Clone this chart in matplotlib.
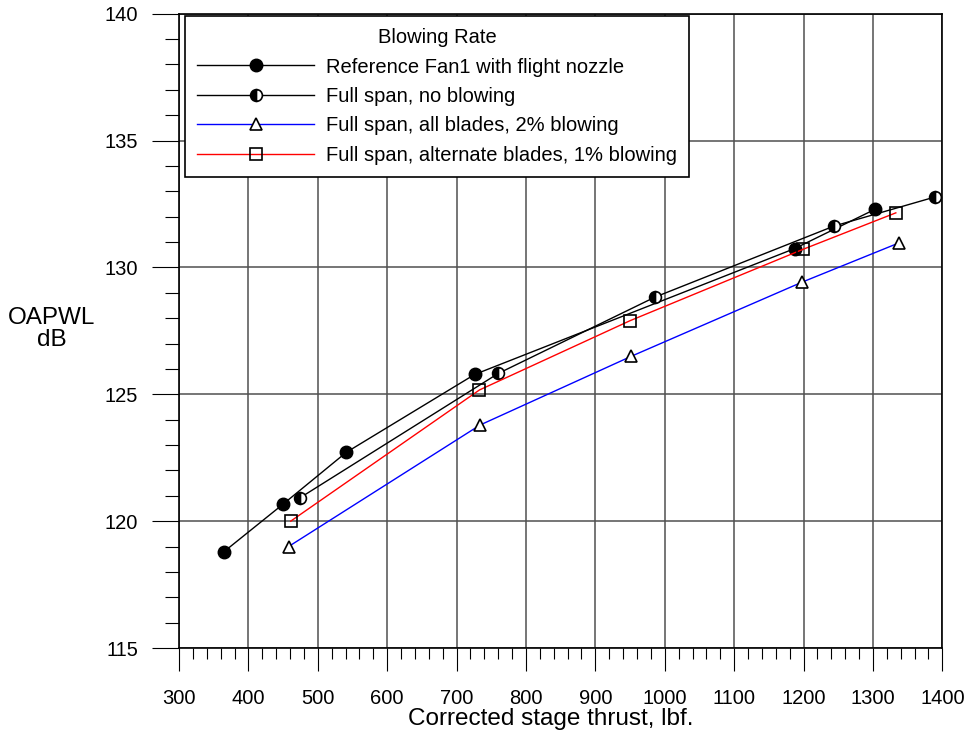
import numpy as np
import matplotlib
matplotlib.use("Agg")
import matplotlib.pyplot as plt
from matplotlib.ticker import MultipleLocator

plt.rcParams['font.family'] = ['Liberation Sans', 'DejaVu Sans']

# data
ref_x = [365, 450, 541, 726, 1187, 1303]
ref_y = [118.8, 120.67, 122.71, 125.78, 130.74, 132.29]

noblow_x = [475, 760, 986, 1244, 1390]
noblow_y = [120.93, 125.82, 128.83, 131.63, 132.78]

all2_x = [458, 734, 952, 1198, 1337]
all2_y = [119.0, 123.79, 126.5, 129.42, 130.96]

alt1_x = [461, 733, 950, 1199, 1333]
alt1_y = [120.0, 125.17, 127.9, 130.71, 132.15]

labels = ["Reference Fan1 with flight nozzle",
          "Full span, no blowing",
          "Full span, all blades, 2% blowing",
          "Full span, alternate blades, 1% blowing"]

fig = plt.figure(figsize=(9.72, 7.40), dpi=100)
ax = fig.add_axes([0.18416, 0.12432, 0.7853, 0.8572])

ax.plot(ref_x, ref_y, color='black', lw=1.0, marker='o', ms=9,
        mfc='black', mec='black', label=labels[0], zorder=3)
ax.plot(noblow_x, noblow_y, color='black', lw=1.0, marker='o', ms=8.5,
        fillstyle='left', mfc='black', mfcalt='white', mec='black', mew=1.2,
        label=labels[1], zorder=3)
ax.plot(all2_x, all2_y, color='blue', lw=1.0, marker='^', ms=8,
        mfc='white', mec='black', mew=1.2, label=labels[2], zorder=3)
ax.plot(alt1_x, alt1_y, color='red', lw=1.0, marker='s', ms=8.5,
        mfc='none', mec='black', mew=1.2, label=labels[3], zorder=3)

ax.set_xlim(300, 1400)
ax.set_ylim(115, 140)
ax.xaxis.set_major_locator(MultipleLocator(100))
ax.xaxis.set_minor_locator(MultipleLocator(20))
ax.yaxis.set_major_locator(MultipleLocator(5))
ax.yaxis.set_minor_locator(MultipleLocator(1))

ax.grid(True, which='major', color='#505050', lw=1.1, zorder=0)
ax.set_axisbelow(True)

ax.tick_params(axis='x', which='major', direction='out', length=16.6, width=0.8,
               pad=13, labelsize=14.5)
ax.tick_params(axis='x', which='minor', direction='out', length=8, width=0.8)
ax.tick_params(axis='y', which='major', direction='out', length=19.4, width=0.8,
               pad=10, labelsize=14.5)
ax.tick_params(axis='y', which='minor', direction='out', length=10, width=0.8)
for sp in ax.spines.values():
    sp.set_linewidth(1.2)

ax.set_xlabel("Corrected stage thrust, lbf.", fontsize=17.5)
ax.xaxis.set_label_coords(0.487, -0.095)
ax.set_ylabel("OAPWL\ndB", fontsize=17.5, rotation=0, ha='center', va='center',
              linespacing=1.0)
ax.yaxis.set_label_coords(-0.1665, 0.503)

leg = ax.legend(title="Blowing Rate", loc='upper left',
                bbox_to_anchor=(0.0079, 0.9964), borderaxespad=0,
                fontsize=14.5, title_fontsize=14.5, handlelength=5.8,
                handletextpad=0.62, labelspacing=0.52, borderpad=0.6,
                fancybox=False, framealpha=1, edgecolor='black')
leg.get_frame().set_linewidth(1.2)

plt.savefig("out.png", dpi=100)
